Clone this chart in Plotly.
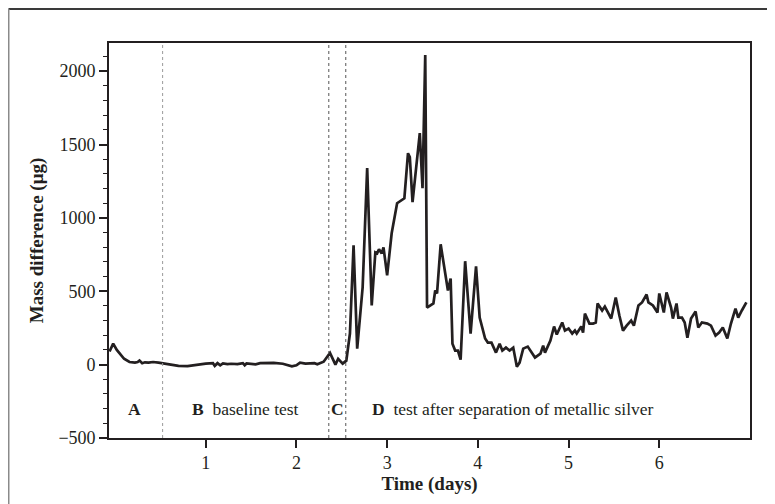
import plotly.graph_objects as go

# ---- data ----
days = [-0.06, -0.02, 0.02, 0.05, 0.10, 0.16, 0.22, 0.25, 0.27, 0.30,
        0.33, 0.37, 0.42, 0.48, 0.53, 0.60, 0.70, 0.80, 0.90, 1.00,
        1.08, 1.10, 1.13, 1.16, 1.19, 1.24, 1.28, 1.35, 1.41, 1.43,
        1.45, 1.50, 1.55, 1.60, 1.75, 1.85, 1.95, 2.00, 2.04, 2.10,
        2.20, 2.23, 2.30, 2.37, 2.43, 2.46, 2.51, 2.55, 2.59, 2.63,
        2.67, 2.73, 2.78, 2.83, 2.87, 2.89, 2.91, 2.94, 2.96, 3.00,
        3.05, 3.11, 3.16, 3.19, 3.23, 3.25, 3.28, 3.33, 3.36, 3.39,
        3.42, 3.44, 3.49, 3.51, 3.53, 3.55, 3.59, 3.63, 3.67, 3.70,
        3.72, 3.75, 3.78, 3.81, 3.86, 3.92, 3.98, 4.02, 4.08, 4.11,
        4.15, 4.20, 4.24, 4.27, 4.31, 4.35, 4.39, 4.43, 4.46, 4.50,
        4.55, 4.63, 4.69, 4.72, 4.74, 4.80, 4.84, 4.87, 4.93, 4.96,
        5.00, 5.04, 5.07, 5.09, 5.14, 5.16, 5.18, 5.23, 5.27, 5.30,
        5.32, 5.37, 5.40, 5.47, 5.52, 5.56, 5.60, 5.64, 5.69, 5.72,
        5.77, 5.81, 5.86, 5.88, 5.93, 5.98, 6.00, 6.05, 6.08, 6.13,
        6.15, 6.19, 6.21, 6.25, 6.28, 6.31, 6.35, 6.40, 6.43, 6.47,
        6.53, 6.57, 6.62, 6.66, 6.70, 6.75, 6.79, 6.84, 6.87, 6.91,
        6.96]

mass = [90, 143, 100, 75, 40, 18, 14, 18, 28, 10,
        16, 14, 18, 14, 8, 2, -8, -10, 0, 7,
        10, -8, 10, -5, 8, 3, 6, 3, 10, -4,
        8, 5, 2, 10, 12, 6, -12, -5, 14, 7,
        10, 3, 20, 80, 0, 40, 7, 27, 212, 813,
        109, 526, 1339, 403, 765, 758, 786, 758, 799, 608,
        895, 1100, 1120, 1134, 1441, 1414, 1107, 1393, 1578, 1202,
        2110, 389, 410, 417, 505, 485, 820, 663, 505, 587,
        143, 96, 96, 34, 705, 212, 670, 321, 178, 150,
        150, 82, 143, 96, 116, 96, 116, -14, 14, 109,
        123, 48, 75, 130, 82, 164, 260, 205, 287, 232,
        246, 212, 232, 212, 260, 219, 348, 280, 280, 287,
        417, 369, 396, 314, 458, 335, 232, 266, 300, 266,
        403, 424, 478, 424, 403, 355, 485, 355, 492, 389,
        314, 417, 321, 321, 287, 184, 314, 362, 253, 287,
        280, 266, 198, 219, 253, 178, 280, 382, 321, 369,
        424]

phase_bounds = [0.525, 2.357, 2.544]
phase_line_colors = ["#9a9a9a", "#555555", "#555555"]
phase_labels = ["<b>A</b>", "<b>B</b>  baseline test", "<b>C</b>",
                "<b>D</b>  test after separation of metallic silver"]
phase_label_x = [0.22, 1.44, 2.45, 4.39]
phase_label_y = -300

x_ticks = [1, 2, 3, 4, 5, 6]
y_ticks = [-500, 0, 500, 1000, 1500, 2000]

FONT = "Liberation Serif"
INK = "#231f20"

fig = go.Figure()
fig.add_trace(go.Scatter(x=days, y=mass, mode="lines",
                         line=dict(color=INK, width=2.7), showlegend=False,
                         hoverinfo="skip"))

for xb, col in zip(phase_bounds, phase_line_colors):
    fig.add_shape(type="line", xref="x", yref="paper", x0=xb, x1=xb, y0=0, y1=1,
                  line=dict(color=col, width=1, dash="dot"))

for txt, xl in zip(phase_labels, phase_label_x):
    fig.add_annotation(x=xl, y=phase_label_y, text=txt, showarrow=False,
                       xanchor="center", yanchor="middle",
                       font=dict(family=FONT, size=17.5, color=INK))

# outer frame (only top and left edges are visible in the picture)
fig.add_shape(type="line", xref="paper", yref="paper",
              x0=-0.1568, x1=1.2, y0=1.0861, y1=1.0861,
              line=dict(color="#3a3a3a", width=2), layer="above")
fig.add_shape(type="line", xref="paper", yref="paper",
              x0=-0.1568, x1=-0.1568, y0=-0.3, y1=1.0861,
              line=dict(color="#8a8a8a", width=2), layer="above")

fig.update_layout(
    width=775, height=504,
    margin=dict(l=101, r=33, t=35, b=74),
    paper_bgcolor="white", plot_bgcolor="white",
    font=dict(family=FONT, size=18, color=INK),
    xaxis=dict(range=[-0.066, 7.0], tickvals=x_ticks, ticks="outside",
               ticklen=8, tickwidth=1.5, tickcolor=INK,
               showline=True, linecolor=INK, linewidth=1.6, mirror=True,
               showgrid=False, zeroline=False,
               title=dict(text="<b>Time (days)</b>", font=dict(size=19), standoff=2),
               tickfont=dict(size=18)),
    yaxis=dict(range=[-500, 2192], tickvals=y_ticks, ticks="outside",
               ticklen=8, tickwidth=1.5, tickcolor=INK,
               minor=dict(dtick=100, ticks="outside", ticklen=4, tickwidth=1.2,
                          tickcolor=INK, showgrid=False),
               showline=True, linecolor=INK, linewidth=1.6, mirror=True,
               showgrid=False, zeroline=False,
               title=dict(text="<b>Mass difference (μg)</b>", font=dict(size=19), standoff=10),
               tickfont=dict(size=18)),
)

fig.write_html("out.html")
